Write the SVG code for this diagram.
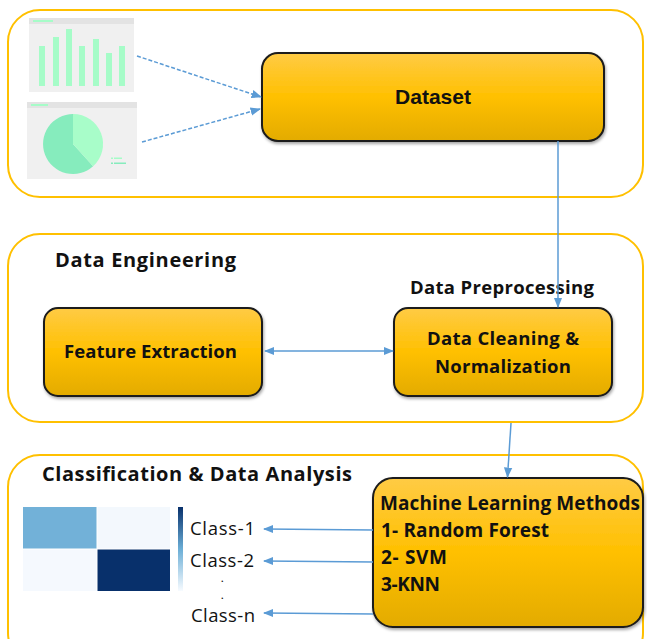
<svg xmlns="http://www.w3.org/2000/svg" width="647" height="639" viewBox="0 0 647 639">
<defs>
<linearGradient id="gold" x1="0" y1="0" x2="0" y2="1">
<stop offset="0" stop-color="#ffcb45"/>
<stop offset="0.5" stop-color="#ffc000"/>
<stop offset="1" stop-color="#e3ab00"/>
</linearGradient>
<linearGradient id="cbar" x1="0" y1="0" x2="0" y2="1">
<stop offset="0" stop-color="#08306b"/>
<stop offset="0.5" stop-color="#6baed6"/>
<stop offset="1" stop-color="#f7fbff"/>
</linearGradient>
<filter id="sh" x="-10%" y="-10%" width="120%" height="130%">
<feDropShadow dx="1" dy="2" stdDeviation="1.5" flood-color="#000" flood-opacity="0.35"/>
</filter>
<marker id="ah" viewBox="0 0 10 10" refX="9" refY="5" markerWidth="7" markerHeight="7" orient="auto-start-reverse">
<path d="M0,1 L10,5 L0,9 Z" fill="#5b9bd5"/>
</marker>
</defs>
<style>
.frame{fill:#fff;stroke:#ffc000;stroke-width:2}
.node{fill:url(#gold);stroke:#1a1a1a;stroke-width:2;filter:url(#sh)}
.conn{stroke:#5b9bd5;stroke-width:1.5;fill:none}
.dash{stroke-dasharray:4 2}
.cal{font-family:"Open Sans","Noto Sans",sans-serif;font-weight:bold;fill:#111}
.reg{font-family:"Open Sans","Noto Sans",sans-serif;fill:#111}
.ari{font-family:"Liberation Sans",Arial,sans-serif;font-weight:bold;fill:#111}
.bar{fill:#a6fcc8}
</style>

<g id="frames">
<rect class="frame" x="8" y="10" width="635" height="187" rx="32"/>
<rect class="frame" x="8" y="234" width="635" height="188" rx="32"/>
<rect class="frame" x="8" y="455" width="635" height="210" rx="32"/>
</g>

<g id="bar-chart">
<rect x="29" y="18" width="105" height="74" fill="#f0f0f0"/>
<rect x="29" y="18" width="105" height="6" fill="#e3e3e3"/>
<rect x="33" y="20" width="20" height="2" fill="#a6fcc8"/>
<rect class="bar" x="39" y="46" width="6" height="40"/>
<rect class="bar" x="53" y="37" width="6" height="49"/>
<rect class="bar" x="66" y="29" width="6" height="57"/>
<rect class="bar" x="79" y="46" width="6" height="40"/>
<rect class="bar" x="93" y="39" width="6" height="47"/>
<rect class="bar" x="106" y="53" width="6" height="33"/>
<rect class="bar" x="119" y="46" width="6" height="40"/>
</g>

<g id="pie-chart">
<rect x="27" y="102" width="110" height="77" fill="#f0f0f0"/>
<rect x="27" y="102" width="110" height="6" fill="#e3e3e3"/>
<rect x="31" y="104" width="17" height="2" fill="#a6fcc8"/>
<path d="M73,144 L93.1,166.3 A30,30 0 1 1 73,114 Z" fill="#86ecbd"/>
<path d="M73,144 L73,114 A30,30 0 0 1 93.1,166.3 Z" fill="#a8fdc9"/>
<rect x="111" y="157.5" width="2" height="1.5" fill="#a6fcc8"/>
<rect x="114" y="157.5" width="8" height="1.5" fill="#a6fcc8"/>
<rect x="111" y="162.5" width="2" height="1.5" fill="#86ecbd"/>
<rect x="114" y="162.5" width="12" height="1.5" fill="#86ecbd"/>
</g>

<g id="confusion-matrix">
<rect x="23" y="507" width="74" height="42" fill="#72b1d8"/>
<rect x="97" y="507" width="73" height="42" fill="#f3f8fd"/>
<rect x="23" y="549" width="74" height="42" fill="#f5f9fe"/>
<rect x="97" y="549" width="73" height="42" fill="#08306b"/>
<path d="M23,549 H170 M97,507 V591" stroke="#ffffff" stroke-width="1"/>
<rect x="178" y="507" width="5" height="84" fill="url(#cbar)"/>
</g>

<g id="dataset">
<rect class="node" x="262" y="53" width="342" height="88" rx="16"/>
<text class="ari" x="433" y="104" font-size="21" text-anchor="middle">Dataset</text>
</g>

<g id="data-engineering-label">
<text class="cal" x="55" y="267" font-size="20" textLength="181">Data Engineering</text>
</g>

<g id="data-preprocessing-label">
<text class="cal" x="410" y="294" font-size="18.5" textLength="184">Data Preprocessing</text>
</g>

<g id="feature-extraction">
<rect class="node" x="44" y="308" width="218" height="88" rx="14"/>
<text class="cal" x="64" y="358" font-size="18.5" textLength="173">Feature Extraction</text>
</g>

<g id="data-cleaning">
<rect class="node" x="394" y="308" width="218" height="88" rx="14"/>
<text class="cal" x="427" y="345" font-size="18.5" textLength="152">Data Cleaning &amp;</text>
<text class="cal" x="435" y="373" font-size="18.5" textLength="136">Normalization</text>
</g>

<g id="classification-label">
<text class="cal" x="42" y="481" font-size="20" textLength="310">Classification &amp; Data Analysis</text>
</g>

<g id="ml-methods">
<rect class="node" x="373" y="478" width="270" height="149" rx="20"/>
<text class="cal" x="380" y="510" font-size="19" textLength="260">Machine Learning Methods</text>
<text class="cal" x="381" y="537" font-size="19" textLength="168">1- Random Forest</text>
<text class="cal" x="381" y="564" font-size="19" textLength="66">2- SVM</text>
<text class="cal" x="381" y="591" font-size="19" textLength="59">3-KNN</text>
</g>

<g id="classes">
<text class="reg" x="190" y="535" font-size="18.5" textLength="65">Class-1</text>
<text class="reg" x="190" y="567" font-size="18.5" textLength="64">Class-2</text>
<text class="cal" x="221" y="582" font-size="9">.</text>
<text class="cal" x="221" y="599" font-size="9">.</text>
<text class="reg" x="191" y="622" font-size="18.5" textLength="64">Class-n</text>
</g>

<g id="connectors">
<line class="conn dash" x1="137" y1="56" x2="261" y2="97" marker-end="url(#ah)"/>
<line class="conn dash" x1="142" y1="142" x2="260" y2="109" marker-end="url(#ah)"/>
<line class="conn" x1="558" y1="141" x2="558" y2="307" marker-end="url(#ah)"/>
<line class="conn" x1="265" y1="351" x2="393" y2="351" marker-start="url(#ah)" marker-end="url(#ah)"/>
<line class="conn" x1="511" y1="423" x2="507.5" y2="477" marker-end="url(#ah)"/>
<line class="conn" x1="373" y1="530" x2="264" y2="529" marker-end="url(#ah)"/>
<line class="conn" x1="373" y1="562" x2="264" y2="561" marker-end="url(#ah)"/>
<line class="conn" x1="373" y1="614" x2="264" y2="613" marker-end="url(#ah)"/>
</g>
</svg>
